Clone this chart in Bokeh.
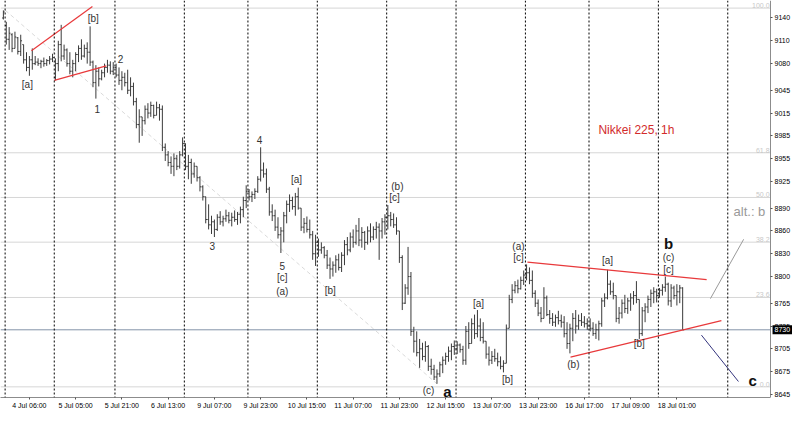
from bokeh.plotting import figure
from bokeh.models import Range1d, FixedTicker, Span, Label
from bokeh.embed import file_html
from bokeh.resources import INLINE
from bokeh.core.properties import value

# ---------------- data (hourly OHLC, Nikkei 225) ----------------
bar_open = [
    9140, 9130, 9112, 9118, 9100, 9114, 9096, 9105, 9085, 9075,
    9085, 9080, 9082, 9080, 9083, 9080, 9084, 9086, 9062, 9080,
    9105, 9090, 9098, 9080, 9070, 9080, 9092, 9100, 9090, 9100,
    9095, 9082, 9055, 9070, 9060, 9068, 9075, 9078, 9070, 9075,
    9065, 9058, 9062, 9055, 9045, 9050, 9030, 9000, 9010, 9005,
    9020, 9015, 9025, 9012, 9022, 9020, 8970, 8960, 8950, 8945,
    8955, 8945, 8960, 8975, 8945, 8950, 8935, 8945, 8930, 8918,
    8905, 8875, 8868, 8872, 8862, 8878, 8872, 8876, 8880, 8874,
    8878, 8875, 8882, 8888, 8900, 8912, 8905, 8908, 8912, 8928,
    8940, 8935, 8915, 8885, 8880, 8865, 8855, 8860, 8880, 8895,
    8900, 8892, 8905, 8890, 8865, 8870, 8862, 8855, 8830, 8845,
    8835, 8838, 8828, 8815, 8810, 8815, 8822, 8812, 8828, 8842,
    8835, 8852, 8845, 8860, 8848, 8858, 8845, 8860, 8852, 8862,
    8865, 8860, 8872, 8878, 8880, 8875, 8868, 8860, 8825, 8765,
    8785, 8800, 8728, 8715, 8700, 8705, 8695, 8708, 8682, 8678,
    8668, 8672, 8684, 8690, 8695, 8702, 8708, 8705, 8710, 8704,
    8690, 8728, 8712, 8738, 8725, 8735, 8720, 8715, 8698, 8690,
    8695, 8692, 8688, 8682, 8686, 8732, 8770, 8782, 8788, 8784,
    8795, 8802, 8805, 8795, 8778, 8765, 8752, 8745, 8772, 8750,
    8745, 8740, 8746, 8742, 8740, 8725, 8712, 8732, 8745, 8735,
    8742, 8740, 8738, 8735, 8732, 8725, 8730, 8738, 8768, 8772,
    8790, 8780, 8775, 8745, 8752, 8765, 8758, 8768, 8772, 8775,
    8770, 8725, 8755, 8760, 8770, 8778, 8780, 8775, 8782, 8786,
    8790, 8768, 8785, 8775, 8780, 8785,
]
bar_high = [
    9150, 9135, 9128, 9120, 9122, 9115, 9118, 9105, 9095, 9090,
    9100, 9090, 9087, 9085, 9088, 9086, 9090, 9093, 9087, 9110,
    9131, 9105, 9100, 9095, 9085, 9095, 9104, 9112, 9105, 9108,
    9129, 9084, 9078, 9075, 9072, 9080, 9085, 9083, 9082, 9080,
    9075, 9070, 9068, 9072, 9062, 9055, 9035, 9020, 9010, 9025,
    9028, 9030, 9026, 9030, 9027, 9025, 8975, 8965, 8958, 8962,
    8960, 8965, 8983, 8975, 8960, 8955, 8950, 8945, 8932, 8920,
    8905, 8895, 8880, 8875, 8882, 8886, 8880, 8888, 8885, 8884,
    8887, 8885, 8892, 8905, 8920, 8915, 8912, 8916, 8932, 8970,
    8950, 8942, 8918, 8895, 8888, 8878, 8865, 8885, 8900, 8908,
    8905, 8910, 8917, 8890, 8877, 8879, 8875, 8860, 8855, 8850,
    8845, 8840, 8835, 8825, 8820, 8828, 8830, 8832, 8848, 8852,
    8858, 8862, 8868, 8877, 8865, 8860, 8866, 8870, 8866, 8872,
    8870, 8877, 8882, 8894, 8885, 8883, 8878, 8860, 8828, 8790,
    8839, 8806, 8734, 8728, 8718, 8713, 8715, 8710, 8692, 8684,
    8678, 8688, 8695, 8700, 8708, 8712, 8716, 8715, 8712, 8709,
    8735, 8740, 8745, 8750, 8756, 8745, 8740, 8715, 8708, 8702,
    8705, 8700, 8695, 8690, 8737, 8776, 8790, 8794, 8796, 8800,
    8808, 8816, 8812, 8808, 8782, 8770, 8760, 8786, 8775, 8756,
    8752, 8750, 8755, 8750, 8748, 8740, 8738, 8752, 8756, 8750,
    8752, 8748, 8745, 8745, 8740, 8738, 8742, 8772, 8778, 8809,
    8795, 8792, 8775, 8760, 8770, 8776, 8772, 8778, 8781, 8794,
    8770, 8760, 8765, 8775, 8783, 8786, 8784, 8785, 8790, 8800,
    8792, 8790, 8788, 8790, 8789, 8786,
]
bar_low = [
    9138, 9105, 9098, 9095, 9100, 9092, 9090, 9080, 9070, 9064,
    9072, 9078, 9077, 9074, 9076, 9077, 9079, 9082, 9058, 9070,
    9083, 9085, 9076, 9066, 9062, 9070, 9082, 9085, 9088, 9080,
    9077, 9049, 9034, 9050, 9058, 9062, 9068, 9066, 9065, 9062,
    9052, 9045, 9050, 9040, 9037, 9025, 8995, 8976, 8985, 9000,
    9008, 9010, 9008, 9012, 9005, 8965, 8952, 8945, 8935, 8932,
    8940, 8942, 8958, 8940, 8928, 8922, 8930, 8925, 8912, 8900,
    8870, 8862, 8856, 8852, 8860, 8868, 8866, 8872, 8870, 8866,
    8872, 8868, 8870, 8878, 8890, 8900, 8898, 8902, 8910, 8925,
    8930, 8910, 8880, 8873, 8860, 8850, 8831, 8845, 8870, 8885,
    8888, 8880, 8888, 8860, 8857, 8858, 8850, 8822, 8814, 8826,
    8830, 8824, 8810, 8797, 8800, 8805, 8808, 8806, 8815, 8828,
    8832, 8838, 8842, 8840, 8838, 8835, 8842, 8845, 8848, 8850,
    8822, 8850, 8855, 8862, 8866, 8864, 8855, 8818, 8756, 8764,
    8776, 8722, 8700, 8695, 8680, 8690, 8688, 8676, 8671, 8664,
    8659, 8668, 8673, 8684, 8688, 8690, 8697, 8698, 8700, 8684,
    8684, 8705, 8712, 8718, 8720, 8715, 8712, 8692, 8683, 8685,
    8688, 8682, 8678, 8674, 8686, 8732, 8765, 8778, 8778, 8783,
    8789, 8795, 8790, 8772, 8760, 8748, 8740, 8745, 8748, 8738,
    8735, 8734, 8737, 8733, 8720, 8705, 8699, 8715, 8725, 8730,
    8735, 8733, 8730, 8728, 8722, 8718, 8716, 8734, 8760, 8770,
    8776, 8770, 8740, 8738, 8745, 8752, 8751, 8755, 8763, 8765,
    8718, 8722, 8740, 8752, 8760, 8765, 8766, 8772, 8775, 8780,
    8762, 8760, 8770, 8762, 8765, 8730,
]
bar_close = [
    9148, 9112, 9120, 9100, 9115, 9096, 9110, 9085, 9075, 9085,
    9080, 9082, 9080, 9083, 9080, 9084, 9086, 9088, 9080, 9105,
    9090, 9098, 9080, 9070, 9080, 9092, 9100, 9090, 9100, 9095,
    9082, 9055, 9070, 9060, 9068, 9075, 9078, 9070, 9075, 9065,
    9058, 9062, 9055, 9045, 9050, 9030, 9000, 9010, 9005, 9020,
    9015, 9025, 9012, 9022, 9020, 8970, 8960, 8950, 8945, 8955,
    8945, 8960, 8975, 8945, 8950, 8935, 8945, 8930, 8918, 8905,
    8875, 8868, 8872, 8862, 8878, 8872, 8876, 8880, 8874, 8878,
    8875, 8882, 8888, 8900, 8912, 8905, 8908, 8912, 8928, 8940,
    8935, 8915, 8885, 8880, 8865, 8855, 8860, 8880, 8895, 8900,
    8892, 8905, 8890, 8865, 8870, 8862, 8855, 8830, 8845, 8835,
    8838, 8828, 8815, 8810, 8815, 8822, 8812, 8828, 8842, 8835,
    8852, 8845, 8860, 8848, 8858, 8845, 8860, 8852, 8862, 8865,
    8860, 8872, 8878, 8880, 8875, 8868, 8860, 8825, 8765, 8785,
    8800, 8728, 8715, 8700, 8705, 8695, 8708, 8682, 8678, 8668,
    8672, 8684, 8690, 8695, 8702, 8708, 8705, 8710, 8704, 8690,
    8728, 8712, 8738, 8725, 8735, 8720, 8715, 8698, 8690, 8695,
    8692, 8688, 8682, 8686, 8732, 8770, 8782, 8788, 8784, 8795,
    8802, 8805, 8795, 8778, 8765, 8752, 8745, 8772, 8750, 8745,
    8740, 8746, 8742, 8740, 8725, 8712, 8732, 8745, 8735, 8742,
    8740, 8738, 8735, 8732, 8725, 8730, 8738, 8768, 8772, 8790,
    8780, 8775, 8745, 8752, 8765, 8758, 8768, 8772, 8775, 8770,
    8725, 8755, 8760, 8770, 8778, 8780, 8775, 8782, 8786, 8790,
    8768, 8785, 8775, 8780, 8785, 8730,
]

# time-axis labels: bar index of each labelled hour
time_label_bars = [3, 19, 35, 51, 67, 83, 99, 115, 131, 147, 163, 179, 195, 211, 227]
time_labels = ["4 Jul 06:00", "5 Jul 05:00", "5 Jul 21:00", "6 Jul 13:00", "9 Jul 07:00",
               "9 Jul 23:00", "10 Jul 15:00", "11 Jul 07:00", "11 Jul 23:00", "12 Jul 15:00",
               "13 Jul 07:00", "13 Jul 23:00", "16 Jul 17:00", "17 Jul 09:00", "18 Jul 01:00"]

# first bar of each trading day (period separators)
day_starts = [1, 18, 39, 63, 85, 109, 133, 157, 181, 203, 227, 251]

price_ticks = [8645, 8675, 8705, 8735, 8765, 8800, 8830, 8860, 8890,
               8925, 8955, 8985, 9015, 9045, 9080, 9110, 9140]

last_price = 8730

# Fibonacci retracement (anchors and levels in %)
fib_low = 8655
fib_high = 9153
fib_anchor_bars = [0.7, 150.0]
fib_pcts = [0.0, 23.6, 38.2, 50.0, 61.8, 100.0]
fib_texts = ["0.0", "23.6", "38.2", "50.0", "61.8", "100.0"]

# Elliott wave labels (bar index, price)
wave_text = ["[a]", "[b]", "1", "2", "3", "4", "[a]", "5", "[c]", "(a)", "[b]",
             "(b)", "[c]", "(c)", "[a]", "[b]", "(a)", "[c]", "(b)", "[a]", "[b]",
             "(c)", "[c]"]
wave_x = [8.3, 31.1, 32.5, 40.5, 72.3, 88.6, 101.4, 96.5, 96.5, 96.5, 113.1,
          136.3, 135.3, 147.1, 164.4, 174.4, 178.2, 178.2, 197.2, 209.0, 220.0,
          230.1, 230.1]
wave_y = [9052, 9139, 9020, 9086, 8840, 8979, 8927, 8814, 8799, 8781, 8782,
          8918, 8904, 8650, 8765, 8665, 8840, 8825, 8685, 8821, 8712,
          8825, 8809]

big_text = ["a", "b", "c"]
big_x = [153.6, 230.1, 259.2]
big_y = [8649, 8844, 8664]

# trend lines (bar index, price)
red_x0 = [9.7, 17.6, 181.3, 196.2]
red_y0 = [9097, 9058, 8819, 8694]
red_x1 = [30.8, 35.6, 243.3, 248.4]
red_y1 = [9155, 9077, 8796, 8742]
alt_line_x = [244.6, 256.1]
alt_line_y = [8771, 8849]
c_line_x = [241.5, 254.3]
c_line_y = [8723, 8662]

X0, X_AXIS, X1 = -1.0, 265.4, 273.0
Y0, Y1 = 8641, 9163
FONT_NAME = "Liberation Sans"
FONT = value(FONT_NAME)

p = figure(width=792, height=411, x_range=Range1d(X0, X1), y_range=Range1d(Y0, Y1),
           output_backend="svg", toolbar_location=None, y_axis_location="right",
           min_border_left=0, min_border_top=0, min_border_right=0, min_border_bottom=12)
p.outline_line_color = None
p.background_fill_color = "white"
p.border_fill_color = "white"
p.xgrid.visible = False
p.ygrid.visible = False

# Fibonacci levels
fib_prices = [fib_low + pc / 100.0 * (fib_high - fib_low) for pc in fib_pcts]
p.segment(x0=[X0] * len(fib_prices), y0=fib_prices, x1=[X_AXIS] * len(fib_prices), y1=fib_prices,
          line_color="#d6d6d6", line_width=1)
p.text(x=[X_AXIS] * len(fib_prices), y=fib_prices,
       text=fib_texts, text_font=FONT, text_font_size="7px", text_color="#c8c8c8",
       text_align="right", text_baseline="bottom", x_offset=-1)
p.line(x=fib_anchor_bars, y=[fib_high - 3, fib_low + 4], line_color="#dadada",
       line_width=1, line_dash="4 3")

# period separators
for d in day_starts:
    p.add_layout(Span(location=d - 0.4, dimension="height", line_color="#000000",
                      line_width=1, line_dash="2 2"))

# current price line
p.segment(x0=[X0], y0=[last_price], x1=[X_AXIS], y1=[last_price], line_color="#8393a8", line_width=1)

# OHLC bars
idx = list(range(len(bar_open)))
bar_col = "#3a3a3a"
p.segment(x0=idx, y0=bar_low, x1=idx, y1=bar_high, line_color=bar_col, line_width=1)
p.segment(x0=[i - 0.45 for i in idx], y0=bar_open, x1=idx, y1=bar_open, line_color=bar_col, line_width=1)
p.segment(x0=idx, y0=bar_close, x1=[i + 0.45 for i in idx], y1=bar_close, line_color=bar_col, line_width=1)

# trend lines
p.segment(x0=red_x0, y0=red_y0, x1=red_x1, y1=red_y1, line_color="#e8393b", line_width=1.2)
p.line(x=alt_line_x, y=alt_line_y, line_color="#9a9a9a", line_width=1)
p.line(x=c_line_x, y=c_line_y, line_color="#35357e", line_width=1)

# wave labels
p.text(x=wave_x, y=wave_y, text=wave_text, text_font=FONT, text_font_size="10px",
       text_color="#333333", text_align="center", text_baseline="middle")
p.text(x=big_x, y=big_y, text=big_text, text_font=FONT, text_font_size="15px",
       text_font_style="bold", text_color="#111111", text_align="center", text_baseline="middle")
p.text(x=[258.1], y=[8885], text=["alt.: b"], text_font=FONT, text_font_size="13px",
       text_color="#999999", text_align="center", text_baseline="middle")
p.text(x=[219.0], y=[8993], text=["Nikkei 225, 1h"], text_font=FONT, text_font_size="12px",
       text_color="#d22b2b", text_align="center", text_baseline="middle")

# axes
p.yaxis.ticker = FixedTicker(ticks=price_ticks)
p.yaxis.fixed_location = X_AXIS
p.xaxis.ticker = FixedTicker(ticks=[b + 6 for b in time_label_bars])
p.xaxis.major_label_overrides = {b + 6: t for b, t in zip(time_label_bars, time_labels)}
p.xaxis.bounds = (X0, X_AXIS)
for ax in (p.xaxis, p.yaxis):
    ax.major_label_text_font = FONT_NAME
    ax.major_label_text_font_size = "7px"
    ax.major_label_text_color = "#000000"
    ax.axis_line_color = "#8c8c8c"
    ax.major_tick_line_color = "#555555"
    ax.major_tick_out = 2
    ax.major_tick_in = 0
    ax.minor_tick_out = 0
    ax.minor_tick_in = 0
    ax.major_label_standoff = 2

p.add_layout(Label(x=X_AXIS, y=last_price, text=str(last_price), text_font=FONT_NAME,
                   text_font_size="7px", text_color="white", background_fill_color="black",
                   text_baseline="middle", x_offset=2, padding=2))

open("out.html", "w").write(file_html(p, INLINE))
